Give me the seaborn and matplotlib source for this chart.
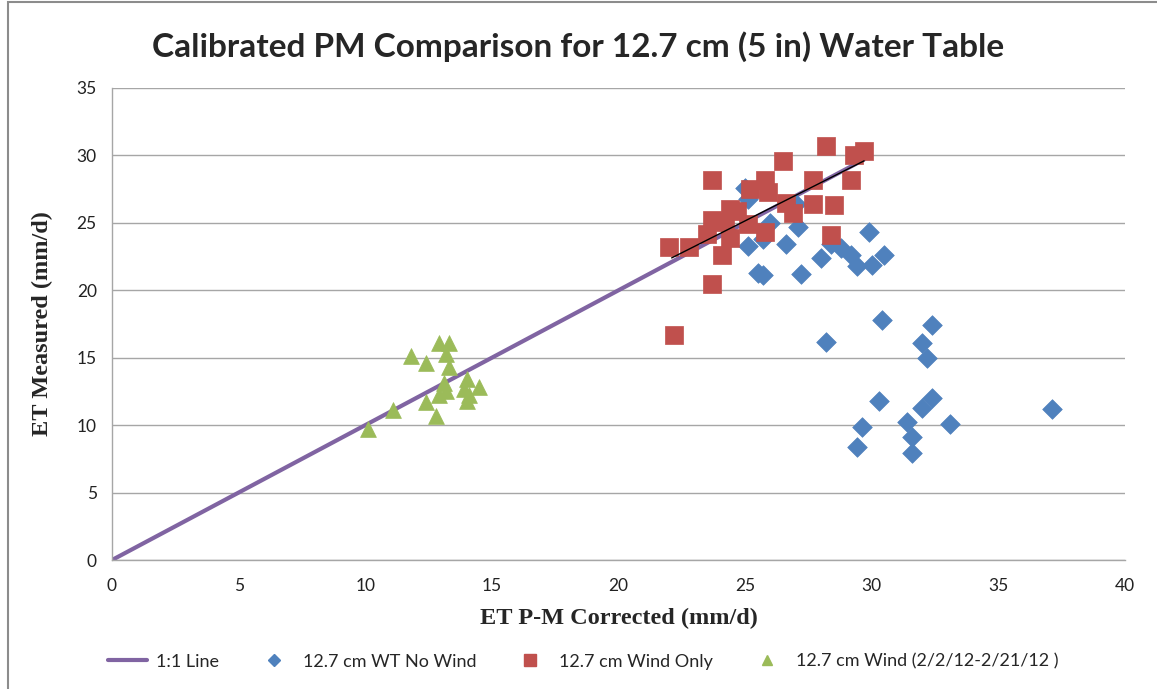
import matplotlib
matplotlib.use("Agg")
import matplotlib.pyplot as plt
import seaborn as sns
from matplotlib.lines import Line2D
from matplotlib.patches import Rectangle

# 1:1 reference line and the short black segment drawn over it
line_x = [0.0, 29.7]
line_y = [0.0, 29.7]
trend_x = [22.1, 29.7]
trend_y = [22.4, 29.6]

# 12.7 cm WT No Wind
nowind_x = [25.0, 25.1, 26.0, 27.0, 27.1, 25.1, 25.7, 26.6, 25.5, 25.7, 27.2, 28.0,
            28.4, 28.8, 29.2, 29.4, 29.9, 30.0, 30.5, 30.4, 32.4, 28.2, 32.0, 32.2,
            30.3, 32.4, 32.0, 29.6, 31.4, 33.1, 29.4, 31.6, 31.6, 37.1]
nowind_y = [27.6, 26.8, 25.0, 26.4, 24.7, 23.3, 23.8, 23.4, 21.3, 21.1, 21.2, 22.4,
            23.4, 23.1, 22.6, 21.8, 24.3, 21.9, 22.6, 17.8, 17.4, 16.2, 16.1, 15.0,
            11.8, 12.0, 11.3, 9.9, 10.2, 10.1, 8.4, 9.1, 7.9, 11.2]

# 12.7 cm Wind Only
wind_x = [22.0, 22.8, 22.2, 23.7, 24.1, 23.5, 24.4, 23.7, 24.2, 24.4, 24.7, 25.1,
          23.7, 25.2, 25.8, 25.8, 25.9, 26.5, 26.6, 26.9, 27.7, 27.7, 28.5, 28.4,
          28.2, 29.2, 29.3, 29.7]
wind_y = [23.2, 23.2, 16.7, 20.5, 22.6, 24.2, 23.9, 25.2, 25.1, 26.0, 25.9, 24.9,
          28.2, 27.5, 24.3, 28.2, 27.3, 29.6, 26.5, 25.7, 28.2, 26.4, 26.3, 24.1,
          30.7, 28.2, 30.0, 30.3]

# 12.7 cm Wind (2/2/12-2/21/12)
period_x = [10.1, 11.1, 11.8, 12.4, 12.9, 13.3, 13.2, 13.3, 12.4, 12.8, 13.1, 12.9,
            13.2, 14.0, 14.5, 13.9, 14.0, 14.1]
period_y = [9.7, 11.1, 15.1, 14.6, 16.1, 16.1, 15.3, 14.3, 11.7, 10.7, 13.1, 12.2,
            12.5, 13.4, 12.8, 12.7, 11.8, 12.2]

labels = ["1:1 Line", "12.7 cm WT No Wind", "12.7 cm Wind Only",
          "12.7 cm Wind (2/2/12-2/21/12 )"]

sns.set_style("white")
plt.rcParams["font.family"] = ["Lato", "DejaVu Sans"]

fig = plt.figure(figsize=(11.57, 6.89), dpi=100)
ax = fig.add_axes([0.0968, 0.1872, 0.8755, 0.6851])

purple = "#8064A2"
blue = "#4F81BD"
red = "#C0504D"
green = "#9BBB59"

sns.lineplot(x=line_x, y=line_y, ax=ax, color=purple, linewidth=3, zorder=2)
sns.scatterplot(x=nowind_x, y=nowind_y, ax=ax, marker="D", s=100, color=blue,
                edgecolor=blue, linewidth=0.5, zorder=3)
sns.scatterplot(x=wind_x, y=wind_y, ax=ax, marker="s", s=150, color=red,
                edgecolor=red, linewidth=0.5, zorder=4)
sns.scatterplot(x=period_x, y=period_y, ax=ax, marker="^", s=130, color=green,
                edgecolor=green, linewidth=0.5, zorder=4)
sns.lineplot(x=trend_x, y=trend_y, ax=ax, color="black", linewidth=1, zorder=5)

ax.set_xlim(0, 40)
ax.set_ylim(0, 35)
ax.set_xticks(range(0, 41, 5))
ax.set_yticks(range(0, 36, 5))
ax.yaxis.grid(True, color="#A6A6A6", linewidth=1)
ax.set_axisbelow(True)
for side in ["top", "right"]:
    ax.spines[side].set_visible(False)
for side in ["left", "bottom"]:
    ax.spines[side].set_color("#A6A6A6")
    ax.spines[side].set_linewidth(1)
ax.tick_params(axis="both", which="major", direction="out", length=5, width=1,
               color="#A6A6A6", labelsize=12.5, labelcolor="#222222", pad=6)
ax.tick_params(axis="x", pad=8)

ax.set_xlabel("ET P-M Corrected (mm/d)", fontsize=17.5, fontweight="bold",
              family=["Liberation Serif", "DejaVu Serif"], labelpad=10)
ax.set_ylabel("ET Measured (mm/d)", fontsize=17.5, fontweight="bold",
              family=["Liberation Serif", "DejaVu Serif"], labelpad=17)

fig.text(0.5, 0.933, "Calibrated PM Comparison for 12.7 cm (5 in) Water Table",
         ha="center", va="center", fontsize=24, fontweight="bold")

handles = [
    Line2D([], [], color=purple, linewidth=3),
    Line2D([], [], color=blue, marker="D", linestyle="none", markersize=6),
    Line2D([], [], color=red, marker="s", linestyle="none", markersize=9),
    Line2D([], [], color=green, marker="^", linestyle="none", markersize=7),
]
fig.legend(handles, labels, loc="center", bbox_to_anchor=(0.504, 0.04), ncol=4,
           frameon=False, fontsize=13, handlelength=2.2, handletextpad=0.5,
           columnspacing=1.9)

# outer chart frame
fig.add_artist(Rectangle((0.007, -0.5), 1.2, 1.497, transform=fig.transFigure,
                         fill=False, edgecolor="#8C8C8C", linewidth=1.5))

fig.savefig("out.png", dpi=100)
